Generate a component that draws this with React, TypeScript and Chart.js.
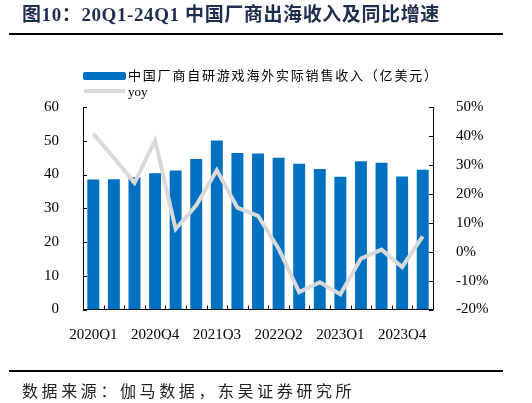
import { useEffect, useRef } from "react"
import { Chart, registerables, type Plugin } from "chart.js"

Chart.register(...registerables)

// quarterly data, 2020Q1 - 2024Q1
const quarters = [
  "2020Q1", "2020Q2", "2020Q3", "2020Q4",
  "2021Q1", "2021Q2", "2021Q3", "2021Q4",
  "2022Q1", "2022Q2", "2022Q3", "2022Q4",
  "2023Q1", "2023Q2", "2023Q3", "2023Q4",
  "2024Q1",
]
const shownQuarters = ["2020Q1", "2020Q4", "2021Q3", "2022Q2", "2023Q1", "2023Q4"]
const revenue = [38.5, 38.6, 39.2, 40.4, 41.2, 44.6, 50.1, 46.4, 46.2, 45.0, 43.2, 41.6, 39.3, 43.9, 43.5, 39.4, 41.4]
const yoy = [40.8, 32.4, 23.8, 38.5, 7.8, 16.0, 28.1, 15.2, 12.4, 1.0, -14.0, -10.6, -14.7, -2.4, 0.7, -5.3, 5.3]
const revenueTicks = [0, 10, 20, 30, 40, 50, 60]
const yoyTicks = [-20, -10, 0, 10, 20, 30, 40, 50]

const revenueLabel = "中国厂商自研游戏海外实际销售收入（亿美元）"
const yoyLabel = "yoy"

const BLUE = "#0070c0"
const GREY = "#d9d9d9"
const SERIF = "'Liberation Serif', 'Noto Sans CJK SC', serif"
const CJK = "'Noto Sans CJK SC', sans-serif"

// tick marks pointing into the plot area
const inwardTicks: Plugin = {
  id: "inwardTicks",
  afterDatasetsDraw(chart) {
    const { ctx, chartArea, scales } = chart
    const len = 4
    ctx.save()
    ctx.strokeStyle = "#000"
    ctx.lineWidth = 1
    ctx.beginPath()
    scales.y.ticks.forEach((t) => {
      const py = Math.round(scales.y.getPixelForValue(t.value)) + 0.5
      ctx.moveTo(chartArea.left, py)
      ctx.lineTo(chartArea.left + len, py)
    })
    scales.y1.ticks.forEach((t) => {
      const py = Math.round(scales.y1.getPixelForValue(t.value)) + 0.5
      ctx.moveTo(chartArea.right, py)
      ctx.lineTo(chartArea.right - len, py)
    })
    for (let i = 1; i < quarters.length; i++) {
      const px = Math.round(scales.x.getPixelForValue(i - 0.5)) + 0.5
      ctx.moveTo(px, chartArea.bottom)
      ctx.lineTo(px, chartArea.bottom - len)
    }
    ctx.stroke()
    ctx.restore()
  },
}

function RevenueChart() {
  const canvasRef = useRef<HTMLCanvasElement>(null)
  const chartRef = useRef<Chart | null>(null)

  useEffect(() => {
    if (!canvasRef.current) return
    if (chartRef.current) chartRef.current.destroy()

    Chart.defaults.font.family = SERIF
    Chart.defaults.font.size = 15
    Chart.defaults.color = "#000"

    chartRef.current = new Chart(canvasRef.current, {
      type: "bar",
      data: {
        labels: quarters,
        datasets: [
          {
            type: "line",
            label: yoyLabel,
            data: yoy,
            yAxisID: "y1",
            borderColor: GREY,
            borderWidth: 4,
            pointRadius: 0,
            tension: 0,
            order: 0,
          },
          {
            type: "bar",
            label: revenueLabel,
            data: revenue,
            yAxisID: "y",
            backgroundColor: BLUE,
            categoryPercentage: 1,
            barPercentage: 0.58,
            order: 1,
          },
        ],
      },
      options: {
        animation: false,
        responsive: true,
        maintainAspectRatio: false,
        layout: { padding: { top: 107, bottom: 63.5, left: 0, right: 0 } },
        plugins: {
          legend: { display: false },
          tooltip: { enabled: false },
        },
        scales: {
          x: {
            offset: true,
            grid: { display: false },
            border: { display: true, color: "#000", width: 1 },
            ticks: {
              autoSkip: false,
              maxRotation: 0,
              padding: 9,
              callback: (_v, i) => (shownQuarters.includes(quarters[i]) ? quarters[i] : ""),
            },
            afterFit: (s) => {
              s.height = 30
            },
          },
          y: {
            position: "left",
            min: 0,
            max: 60,
            grid: { display: false },
            border: { display: true, color: "#000", width: 1 },
            ticks: { padding: 16 },
            afterBuildTicks: (s) => {
              s.ticks = revenueTicks.map((value) => ({ value }))
            },
            afterFit: (s) => {
              s.width = 83
            },
          },
          y1: {
            position: "right",
            min: -20,
            max: 50,
            grid: { display: false },
            border: { display: true, color: "#000", width: 1 },
            ticks: {
              padding: 15,
              callback: (v) => `${v}%`,
            },
            afterBuildTicks: (s) => {
              s.ticks = yoyTicks.map((value) => ({ value }))
            },
            afterFit: (s) => {
              s.width = 99
            },
          },
        },
      },
      plugins: [inwardTicks],
    })

    return () => {
      if (chartRef.current) {
        chartRef.current.destroy()
        chartRef.current = null
      }
    }
  }, [])

  return (
    <div style={{ position: "absolute", left: 0, top: 0, width: 532, height: 403 }}>
      <canvas ref={canvasRef} />
    </div>
  )
}

export default function App() {
  return (
    <div
      style={{
        position: "fixed",
        left: 0,
        top: 0,
        width: 532,
        height: 403,
        background: "#fff",
        overflow: "hidden",
      }}
    >
      <RevenueChart />

      {/* title */}
      <div
        style={{
          position: "absolute",
          left: 22,
          top: 3,
          fontFamily: SERIF,
          fontWeight: "bold",
          fontSize: 19,
          lineHeight: "24px",
          color: "#1f2d4e",
          whiteSpace: "nowrap",
          letterSpacing: 0.6,
        }}
      >
        图10：20Q1-24Q1 中国厂商出海收入及同比增速
      </div>
      <div style={{ position: "absolute", left: 9, top: 33, width: 494, height: 2, background: "#000" }} />

      {/* legend */}
      <div
        style={{ position: "absolute", left: 83, top: 72, width: 43, height: 8, borderRadius: 2, background: BLUE }}
      />
      <div
        style={{
          position: "absolute",
          left: 128,
          top: 67,
          fontFamily: CJK,
          fontSize: 13,
          lineHeight: "16px",
          letterSpacing: 1.8,
          color: "#000",
          whiteSpace: "nowrap",
        }}
      >
        {revenueLabel}
      </div>
      <div style={{ position: "absolute", left: 84, top: 89, width: 41, height: 4, background: GREY }} />
      <div
        style={{
          position: "absolute",
          left: 128,
          top: 84,
          fontFamily: SERIF,
          fontSize: 13,
          lineHeight: "16px",
          color: "#000",
        }}
      >
        {yoyLabel}
      </div>

      {/* source */}
      <div style={{ position: "absolute", left: 9, top: 370, width: 494, height: 2, background: "#000" }} />
      <div
        style={{
          position: "absolute",
          left: 22,
          top: 379,
          fontFamily: CJK,
          fontSize: 16,
          lineHeight: "22px",
          letterSpacing: 3.6,
          color: "#222",
          whiteSpace: "nowrap",
        }}
      >
        数据来源：伽马数据，东吴证券研究所
      </div>
    </div>
  )
}
